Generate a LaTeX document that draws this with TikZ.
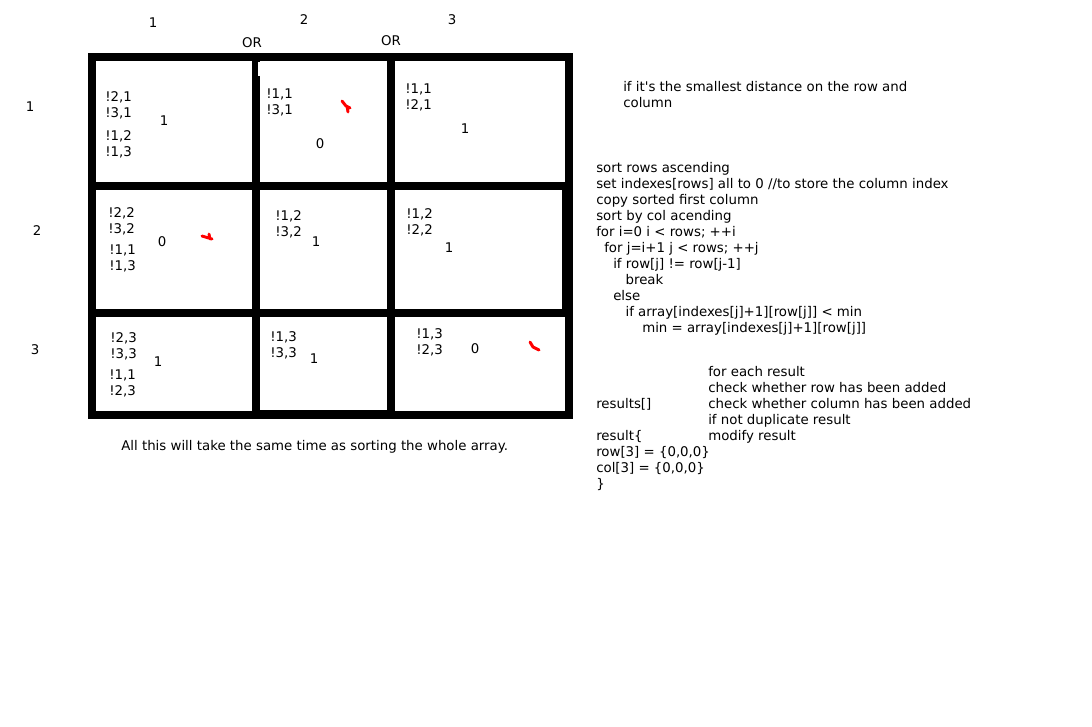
\documentclass[tikz,border=0pt]{standalone}
\usepackage{fontspec}
\setmainfont{DejaVu Sans}
\tikzstyle{txt}=[font=\fontsize{10pt}{12pt}\selectfont, inner sep=0pt]
\tikzstyle{num}=[txt, anchor=base]
\tikzstyle{lines}=[txt, anchor=base west, align=left]
\tikzstyle{scribble}=[red, line width=2.2pt, line cap=round, line join=round]

\begin{document}
\begin{tikzpicture}[x=0.75pt, y=-0.75pt]
  \useasboundingbox (0, 0) rectangle (1092, 726);
  % the grid
  \fill (88, 53) rectangle (573, 419);
  \foreach \xa/\ya/\xb/\yb in {96/61/252/182, 260/61/387/182, 395/61/565/182,
      96/190/252/309, 260/190/387/309, 395/190/562/309,
      96/317/252/411, 260/317/387/410, 395/317/565/411}
    \fill[white] (\xa, \ya) rectangle (\xb, \yb);
  \fill[white] (257.5, 62) rectangle (260, 76);
  % headers
  \node[num] (col1) at (153, 27) {1};
  \node[num] (col2) at (304, 24) {2};
  \node[num] (col3) at (452, 24) {3};
  \node[num] (or1) at (252, 47) {OR};
  \node[num] (or2) at (391, 45) {OR};
  \node[num] (row1) at (30, 111) {1};
  \node[num] (row2) at (37, 235) {2};
  \node[num] (row3) at (35, 354) {3};
  % row 1 (a lines node sits on its last baseline)
  \node[lines] (c11a) at (105, 117) {!2,1\\!3,1};
  \node[lines] (c11b) at (105, 156) {!1,2\\!1,3};
  \node[num] (v11) at (164, 125) {1};
  \node[lines] (c12a) at (266, 114) {!1,1\\!3,1};
  \node[num] (v12) at (320, 148) {0};
  \node[lines] (c13a) at (405, 109) {!1,1\\!2,1};
  \node[num] (v13) at (465, 133) {1};
  % row 2
  \node[lines] (c21a) at (108, 233) {!2,2\\!3,2};
  \node[lines] (c21b) at (109, 270) {!1,1\\!1,3};
  \node[num] (v21) at (162, 246) {0};
  \node[lines] (c22a) at (275, 236) {!1,2\\!3,2};
  \node[num] (v22) at (316, 246) {1};
  \node[lines] (c23a) at (406, 234) {!1,2\\!2,2};
  \node[num] (v23) at (449, 252) {1};
  % row 3
  \node[lines] (c31a) at (110, 358) {!2,3\\!3,3};
  \node[lines] (c31b) at (109, 395) {!1,1\\!2,3};
  \node[num] (v31) at (158, 366) {1};
  \node[lines] (c32a) at (270, 357) {!1,3\\!3,3};
  \node[num] (v32) at (314, 363) {1};
  \node[lines] (c33a) at (416, 354) {!1,3\\!2,3};
  \node[num] (v33) at (475, 353) {0};
  % red marks
  \draw[scribble] (342, 101) -- (346, 106) -- (350, 108) (347, 106) -- (348, 112);
  \draw[scribble] (202, 236) -- (212, 239) (209, 234) -- (210, 239);
  \draw[scribble] (530, 342) -- (533, 347) -- (539, 350);
  % notes
  \node[txt, anchor=base west] (total) at (121, 450)
    {All this will take the same time as sorting the whole array.};
  \node[lines] (cond) at (623, 107)
    {if it\textquotesingle s the smallest distance on the row and\\column};
  \node[lines] (algo) at (596, 332.5) {sort rows ascending\\
    set indexes[rows] all to 0 //to store the column index\\
    copy sorted first column\\
    sort by col acending\\
    for i=0 i < rows; ++i\\
    \hspace*{6pt}for j=i+1 j < rows; ++j\\
    \hspace*{12.75pt}if row[j] != row[j-1]\\
    \hspace*{22pt}break\\
    \hspace*{12.75pt}else\\
    \hspace*{22pt}if array[indexes[j]+1][row[j]] < min\\
    \hspace*{34.5pt}min = array[indexes[j]+1][row[j]]};
  \node[lines] (loop) at (708, 440) {for each result\\
    check whether row has been added\\
    check whether column has been added\\
    if not duplicate result\\
    modify result};
  \node[txt, anchor=base west] (results) at (596, 408) {results[]};
  \node[lines] (result) at (596, 488) {result\{\\
    row[3] = \{0,0,0\}\\
    col[3] = \{0,0,0\}\\
    \}};
\end{tikzpicture}
\end{document}
